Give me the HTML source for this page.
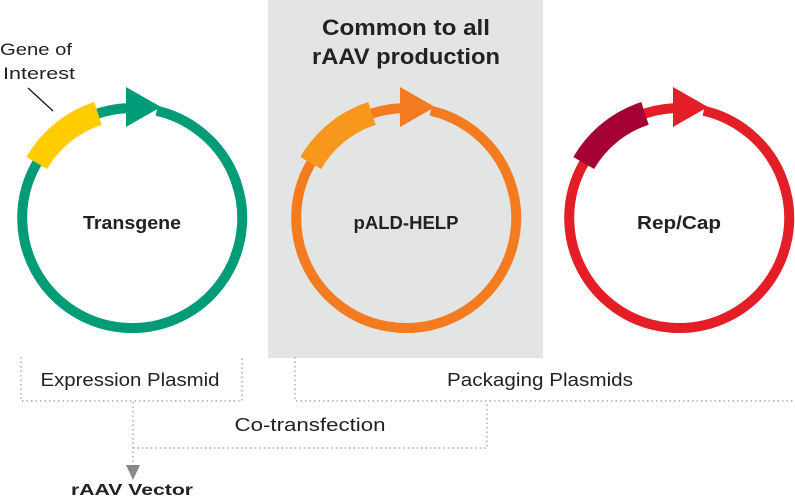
<!DOCTYPE html>
<html><head><meta charset="utf-8"><style>
html,body{margin:0;padding:0;background:#fff;}
svg{display:block;font-family:"Liberation Sans",sans-serif;}
</style></head><body>
<svg width="795" height="501" viewBox="0 0 795 501" xmlns="http://www.w3.org/2000/svg">
<rect x="268" y="0" width="275" height="358" fill="#e3e5e4"/>
<text x="406" y="35" text-anchor="middle" font-size="22" font-weight="bold" fill="#222" textLength="168" lengthAdjust="spacingAndGlyphs">Common to all</text>
<text x="406" y="64" text-anchor="middle" font-size="22" font-weight="bold" fill="#222" textLength="188" lengthAdjust="spacingAndGlyphs">rAAV production</text>

<g>
<path d="M156.7,110.8 A110,110 0 1 1 126.2,108.2" fill="none" stroke="#009b77" stroke-width="10"/>
<polygon points="126,87 126,127 161,107" fill="#009b77"/>
<path d="M36.7,163 A110,110 0 0 1 98,113.4" fill="none" stroke="#ffcc00" stroke-width="24"/>
<line x1="28" y1="88" x2="53" y2="111" stroke="#222" stroke-width="1.5"/>
<text x="0" y="55" font-size="17" fill="#222" textLength="72" lengthAdjust="spacingAndGlyphs">Gene of</text>
<text x="3" y="79" font-size="17" fill="#222" textLength="72" lengthAdjust="spacingAndGlyphs">Interest</text>
<text x="132" y="229" text-anchor="middle" font-size="18" font-weight="bold" fill="#222" textLength="98" lengthAdjust="spacingAndGlyphs">Transgene</text>
</g>

<g transform="translate(274,0)">
<path d="M156.7,110.8 A110,110 0 1 1 126.2,108.2" fill="none" stroke="#f47b20" stroke-width="10"/>
<polygon points="126,87 126,127 161,107" fill="#f47b20"/>
<path d="M36.7,163 A110,110 0 0 1 98,113.4" fill="none" stroke="#f7981d" stroke-width="24"/>
<text x="132" y="229" text-anchor="middle" font-size="18" font-weight="bold" fill="#222" textLength="105" lengthAdjust="spacingAndGlyphs">pALD-HELP</text>
</g>

<g transform="translate(547,0)">
<path d="M156.7,110.8 A110,110 0 1 1 126.2,108.2" fill="none" stroke="#e31e26" stroke-width="10"/>
<polygon points="126,87 126,127 161,107" fill="#e31e26"/>
<path d="M36.7,163 A110,110 0 0 1 98,113.4" fill="none" stroke="#a50034" stroke-width="24"/>
<text x="132" y="229" text-anchor="middle" font-size="18" font-weight="bold" fill="#222" textLength="84" lengthAdjust="spacingAndGlyphs">Rep/Cap</text>
</g>

<g fill="none" stroke="#999" stroke-width="1.2" stroke-dasharray="1.5,3">
<path d="M21,357 V401 H242 V357"/>
<path d="M295,357 V401 H795"/>
<path d="M133,402 V466"/>
<path d="M133,448 H487 V402"/>
</g>
<polygon points="126,465 140,465 133,480" fill="#888"/>

<text x="130" y="386" text-anchor="middle" font-size="18" fill="#222" textLength="179" lengthAdjust="spacingAndGlyphs">Expression Plasmid</text>
<text x="540" y="386" text-anchor="middle" font-size="18" fill="#222" textLength="186" lengthAdjust="spacingAndGlyphs">Packaging Plasmids</text>
<text x="310" y="431" text-anchor="middle" font-size="18" fill="#222" textLength="151" lengthAdjust="spacingAndGlyphs">Co-transfection</text>
<text x="132" y="495" text-anchor="middle" font-size="16" font-weight="bold" fill="#222" textLength="122" lengthAdjust="spacingAndGlyphs">rAAV Vector</text>
</svg>
</body></html>
